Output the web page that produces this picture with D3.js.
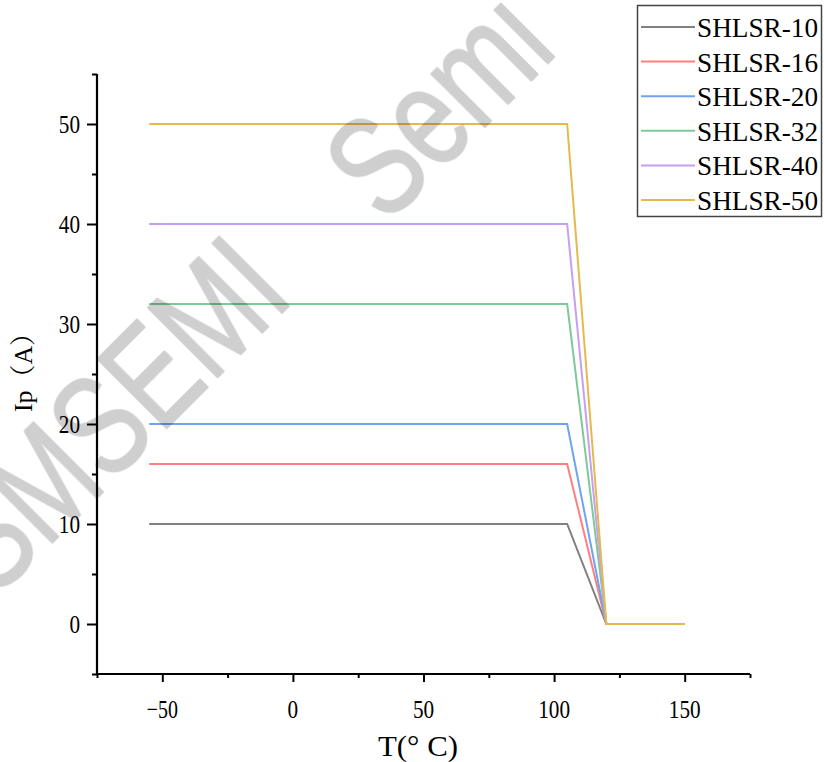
<!DOCTYPE html>
<html>
<head>
<meta charset="utf-8">
<script src="https://cdn.jsdelivr.net/npm/d3@7"></script>
<style>
  body { margin: 0; background: #fff; }
  svg text { font-family: "Liberation Serif", "Noto Serif CJK SC", "Noto Sans CJK SC", serif; }
  svg text.wm { font-family: "Liberation Sans", Arial, sans-serif; font-size: 142px; }
</style>
</head>
<body>
<svg id="chart" width="824" height="762"></svg>
<script>
// data
const temps = [-55, 105, 120, 150];
const seriesNames = ["SHLSR-10", "SHLSR-16", "SHLSR-20", "SHLSR-32", "SHLSR-40", "SHLSR-50"];
const ratedCurrent = [10, 16, 20, 32, 40, 50];
const seriesColors = ["#808080", "#ff7f7f", "#6fa3f2", "#7cca98", "#c6a0f0", "#e5b94e"];
const xTicks = [-50, 0, 50, 100, 150];
const yTicks = [0, 10, 20, 30, 40, 50];

const svg = d3.select("#chart");

const x = d3.scaleLinear().domain([-75, 175]).range([97, 750]);
const y = d3.scaleLinear().domain([-5, 55]).range([674, 74]);

// each curve: flat until 105, derated to 0 at 120, then 0
const curves = ratedCurrent.map((I, i) => ({
  name: seriesNames[i],
  color: seriesColors[i],
  pts: temps.map(t => [t, t <= 105 ? I : 0])
}));

const line = d3.line().x(d => x(d[0])).y(d => y(d[1]));

svg.append("g")
  .selectAll("path")
  .data(curves)
  .join("path")
  .attr("d", d => line(d.pts))
  .attr("fill", "none")
  .attr("stroke", d => d.color)
  .attr("stroke-width", 2);

// narrow serif look: squeeze labels a little
const labelWidth = s => String(s).replace("\u2212", "").length * 10.6 + (String(s).startsWith("\u2212") ? 10 : 0);

// axes
const xAxis = svg.append("g").attr("transform", `translate(0,${y(-5)})`);
xAxis.call(d3.axisBottom(x).tickValues(d3.range(-75, 176, 25)).tickSize(4).tickFormat(""));
xAxis.call(g => g.selectAll(".tick line")
  .filter(d => xTicks.includes(d)).attr("y2", 8));
xAxis.select(".domain").attr("d", `M${x(-75)},0H${x(175)}`);

svg.append("g").selectAll("text").data(xTicks).join("text")
  .attr("x", d => x(d)).attr("y", 718)
  .attr("text-anchor", "middle")
  .style("font-size", "26px")
  .text(d => d < 0 ? "\u2212" + Math.abs(d) : d)
  .attr("textLength", function() { return labelWidth(this.textContent); })
  .attr("lengthAdjust", "spacingAndGlyphs");

const yAxis = svg.append("g").attr("transform", `translate(${x(-75)},0)`);
yAxis.call(d3.axisLeft(y).tickValues(d3.range(-5, 56, 5)).tickSize(5).tickFormat(""));
yAxis.call(g => g.selectAll(".tick line")
  .filter(d => yTicks.includes(d)).attr("x2", -10));
yAxis.select(".domain").attr("d", `M0,${y(55)}V${y(-5)}`);

svg.selectAll(".domain").attr("stroke", "#000").attr("stroke-width", 2.2);
svg.selectAll(".tick line").attr("stroke", "#000").attr("stroke-width", 2);

svg.append("g").selectAll("text").data(yTicks).join("text")
  .attr("x", 80).attr("y", d => y(d))
  .attr("dy", "0.34em")
  .attr("text-anchor", "end")
  .style("font-size", "26px")
  .text(d => d)
  .attr("textLength", d => labelWidth(d))
  .attr("lengthAdjust", "spacingAndGlyphs");

// axis titles
svg.append("text")
  .attr("transform", "translate(32,366) rotate(-90)")
  .attr("text-anchor", "middle")
  .style("font-size", "26px")
  .attr("textLength", 92).attr("lengthAdjust", "spacingAndGlyphs")
  .text("Ip（A）");

svg.append("text")
  .attr("x", 418).attr("y", 756)
  .attr("text-anchor", "middle")
  .style("font-size", "30px")
  .attr("textLength", 80).attr("lengthAdjust", "spacingAndGlyphs")
  .text("T(° C)");

// legend
const leg = svg.append("g");
leg.append("rect")
  .attr("x", 637.5).attr("y", 5.5).attr("width", 184).attr("height", 211)
  .attr("fill", "#fff").attr("stroke", "#444").attr("stroke-width", 1.5);

const rowY = d3.scaleLinear().domain([0, seriesNames.length - 1]).range([27, 200]);
const item = leg.selectAll(".item").data(curves).join("g")
  .attr("class", "item")
  .attr("transform", (d, i) => `translate(0,${rowY(i)})`);
item.append("line")
  .attr("x1", 641).attr("x2", 695)
  .attr("stroke", d => d.color).attr("stroke-width", 2);
item.append("text")
  .attr("x", 697).attr("y", 10)
  .style("font-size", "27px")
  .attr("textLength", 121).attr("lengthAdjust", "spacingAndGlyphs")
  .text(d => d.name);

// watermark (group opacity so fill + stroke don't double up)
const wm = svg.append("g")
  .attr("opacity", 0.19)
  .attr("fill", "#000")
  .attr("stroke", "#000")
  .attr("stroke-width", 2)
  .attr("stroke-linejoin", "round");
wm.append("text")
  .attr("class", "wm")
  .attr("transform", "translate(296,299) rotate(-45) scale(0.76,1)")
  .attr("text-anchor", "end")
  .text("SMSEMI");
wm.append("text")
  .attr("class", "wm")
  .attr("transform", "translate(386,226) rotate(-45) scale(0.76,1)")
  .text("Semi");
</script>
</body>
</html>
